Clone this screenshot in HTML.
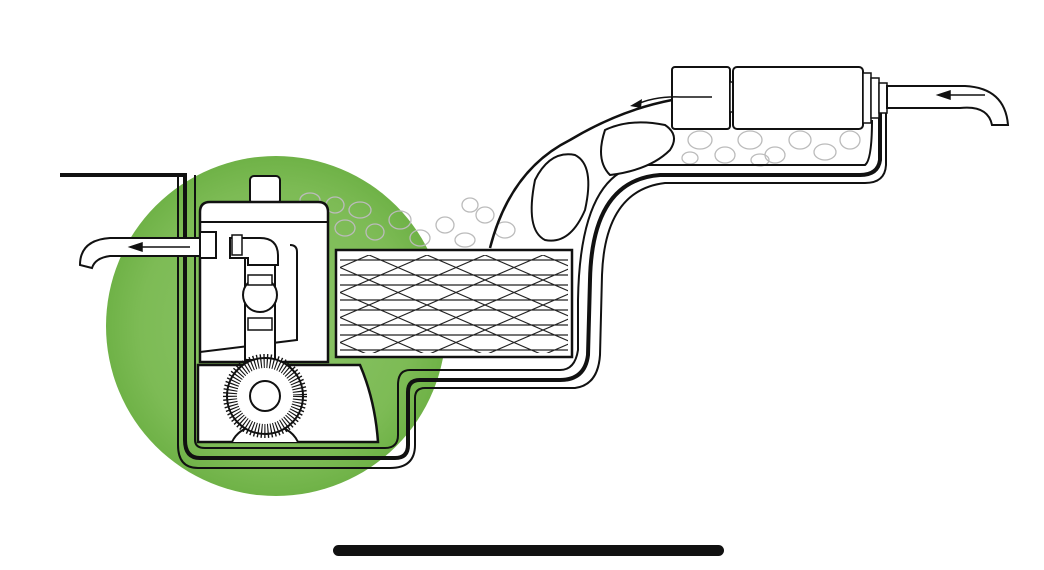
<!DOCTYPE html>
<html><head><style>html,body{margin:0;padding:0;background:#fff}svg{display:block}</style></head>
<body>
<svg width="1044" height="570" viewBox="0 0 1044 570" xmlns="http://www.w3.org/2000/svg">
<defs>
<radialGradient id="g" cx="0.5" cy="0.5" r="0.5">
<stop offset="0" stop-color="#8cc56a"/><stop offset="0.8" stop-color="#7dbb55"/><stop offset="1" stop-color="#6fb247"/>
</radialGradient>
<pattern id="dm" x="340" y="255" width="58" height="25" patternUnits="userSpaceOnUse">
<path d="M0 12.5 L29 0 L58 12.5 L29 25 Z M0 5 H58 M0 20 H58" fill="none" stroke="#222" stroke-width="1.2"/>
</pattern>
</defs>
<circle cx="276" cy="326" r="170" fill="url(#g)"/>
<!-- pebbles -->
<g fill="none" stroke="#bbb" stroke-width="1.3">
<ellipse cx="310" cy="200" rx="10" ry="7"/><ellipse cx="335" cy="205" rx="9" ry="8"/><ellipse cx="360" cy="210" rx="11" ry="8"/>
<ellipse cx="345" cy="228" rx="10" ry="8"/><ellipse cx="375" cy="232" rx="9" ry="8"/><ellipse cx="400" cy="220" rx="11" ry="9"/>
<ellipse cx="420" cy="238" rx="10" ry="8"/><ellipse cx="445" cy="225" rx="9" ry="8"/><ellipse cx="465" cy="240" rx="10" ry="7"/>
<ellipse cx="485" cy="215" rx="9" ry="8"/><ellipse cx="505" cy="230" rx="10" ry="8"/><ellipse cx="470" cy="205" rx="8" ry="7"/>
<ellipse cx="700" cy="140" rx="12" ry="9"/><ellipse cx="725" cy="155" rx="10" ry="8"/><ellipse cx="750" cy="140" rx="12" ry="9"/>
<ellipse cx="775" cy="155" rx="10" ry="8"/><ellipse cx="800" cy="140" rx="11" ry="9"/><ellipse cx="825" cy="152" rx="11" ry="8"/>
<ellipse cx="850" cy="140" rx="10" ry="9"/><ellipse cx="690" cy="158" rx="8" ry="6"/><ellipse cx="760" cy="160" rx="9" ry="6"/>
</g>
<!-- channel outer -->
<path d="M60 175 H185 V440 Q185 458 200 458 H395 Q408 458 408 445 V392 Q408 380 420 380 H560 Q585 380 588 355 L590 280 Q592 180 660 175 H860 Q878 175 880 160 V100" fill="none" stroke="#111" stroke-width="4"/>
<path d="M178 175 V445 Q178 468 198 468 H390 Q415 468 415 445 V398 Q415 388 425 388 H575 Q598 385 600 355 L602 275 Q605 190 665 183 H865 Q885 183 886 165 V100" fill="none" stroke="#111" stroke-width="2"/>
<path d="M195 175 V440 Q195 448 205 448 H385 Q398 448 398 435 V385 Q398 370 410 370 H560 Q575 370 578 350 L578 300 Q580 175 640 165 H865 Q872 160 872 120" fill="none" stroke="#111" stroke-width="2"/>
<!-- upper channel wall -->
<path d="M490 248 Q510 170 570 140 Q620 110 672 100" fill="none" stroke="#111" stroke-width="2.5"/>
<path d="M520 160 L575 125" fill="none" stroke="#111" stroke-width="0"/>
<!-- big stones -->
<path d="M535 180 Q550 150 575 155 Q595 165 585 210 Q570 245 545 240 Q525 230 535 180 Z" fill="#fff" stroke="#111" stroke-width="2"/>
<path d="M605 130 Q630 118 665 125 Q680 135 670 150 Q650 170 610 175 Q595 160 605 130 Z" fill="#fff" stroke="#111" stroke-width="2"/>
<!-- filter -->
<rect x="336" y="250" width="236" height="107" fill="#fff" stroke="#111" stroke-width="2.5"/>
<rect x="340" y="255" width="228" height="98" fill="url(#dm)"/>
<!-- pump -->
<rect x="250" y="176" width="30" height="28" rx="4" fill="#fff" stroke="#111" stroke-width="2"/>
<path d="M200 362 V212 Q200 202 210 202 H318 Q328 202 328 212 V362 Z" fill="#fff" stroke="#111" stroke-width="2.5"/>
<line x1="200" y1="222" x2="328" y2="222" stroke="#111" stroke-width="2"/>
<path d="M290 245 Q297 245 297 252 V340 L200 352" fill="none" stroke="#111" stroke-width="2"/>
<path d="M198 365 H360 Q375 400 378 442 H198 Z" fill="#fff" stroke="#111" stroke-width="2.5"/>
<rect x="245" y="250" width="30" height="110" fill="#fff" stroke="#111" stroke-width="2"/>
<circle cx="260" cy="295" r="17" fill="#fff" stroke="#111" stroke-width="2"/>
<rect x="248" y="318" width="24" height="12" fill="#fff" stroke="#111" stroke-width="1.5"/>
<rect x="248" y="275" width="24" height="10" fill="#fff" stroke="#111" stroke-width="1.5"/>
<path d="M230 238 H260 Q278 238 278 256 V265 H248 V258 H230 Z" fill="#fff" stroke="#111" stroke-width="2"/>
<path d="M80 265 Q80 240 110 238 H205 V256 H110 Q95 258 92 268 Z" fill="#fff" stroke="#111" stroke-width="2"/>
<path d="M130 247 H190 M130 247 L142 243 L142 251 Z" stroke="#111" stroke-width="1.5" fill="#111"/>
<rect x="200" y="232" width="16" height="26" fill="#fff" stroke="#111" stroke-width="2"/>
<rect x="232" y="235" width="10" height="20" fill="#fff" stroke="#111" stroke-width="1.5"/>
<path d="M232 442 Q240 425 265 425 Q290 425 298 442" fill="#fff" stroke="#111" stroke-width="2"/>
<circle cx="265" cy="396" r="38" fill="#fff" stroke="#111" stroke-width="2"/>
<circle cx="265" cy="396" r="35" fill="none" stroke="#111" stroke-width="14" stroke-dasharray="1.2 2"/>
<circle cx="265" cy="396" r="15" fill="#fff" stroke="#111" stroke-width="2"/>
<!-- UV unit -->
<rect x="672" y="67" width="58" height="62" rx="3" fill="#fff" stroke="#111" stroke-width="2"/>
<rect x="730" y="82" width="5" height="30" fill="#fff" stroke="#111" stroke-width="1.5"/>
<rect x="733" y="67" width="130" height="62" rx="4" fill="#fff" stroke="#111" stroke-width="2"/>
<rect x="863" y="73" width="8" height="50" fill="#fff" stroke="#111" stroke-width="1.5"/>
<rect x="871" y="78" width="8" height="40" fill="#fff" stroke="#111" stroke-width="1.5"/>
<rect x="879" y="83" width="8" height="30" fill="#fff" stroke="#111" stroke-width="1.5"/>
<path d="M887 86 H965 Q1005 88 1008 125 H992 Q988 105 960 108 H887 Z" fill="#fff" stroke="#111" stroke-width="2"/>
<path d="M938 95 H985 M938 95 L950 91 L950 99 Z" stroke="#111" stroke-width="1.5" fill="#111"/>
<path d="M712 97 H680 Q655 96 635 105" fill="none" stroke="#111" stroke-width="1.5"/>
<path d="M630 106 L642 99 L641 108 Z" fill="#111"/>
<!-- bottom bar -->
<rect x="333" y="545" width="391" height="11" rx="5.5" fill="#111"/>
</svg>
</body></html>
